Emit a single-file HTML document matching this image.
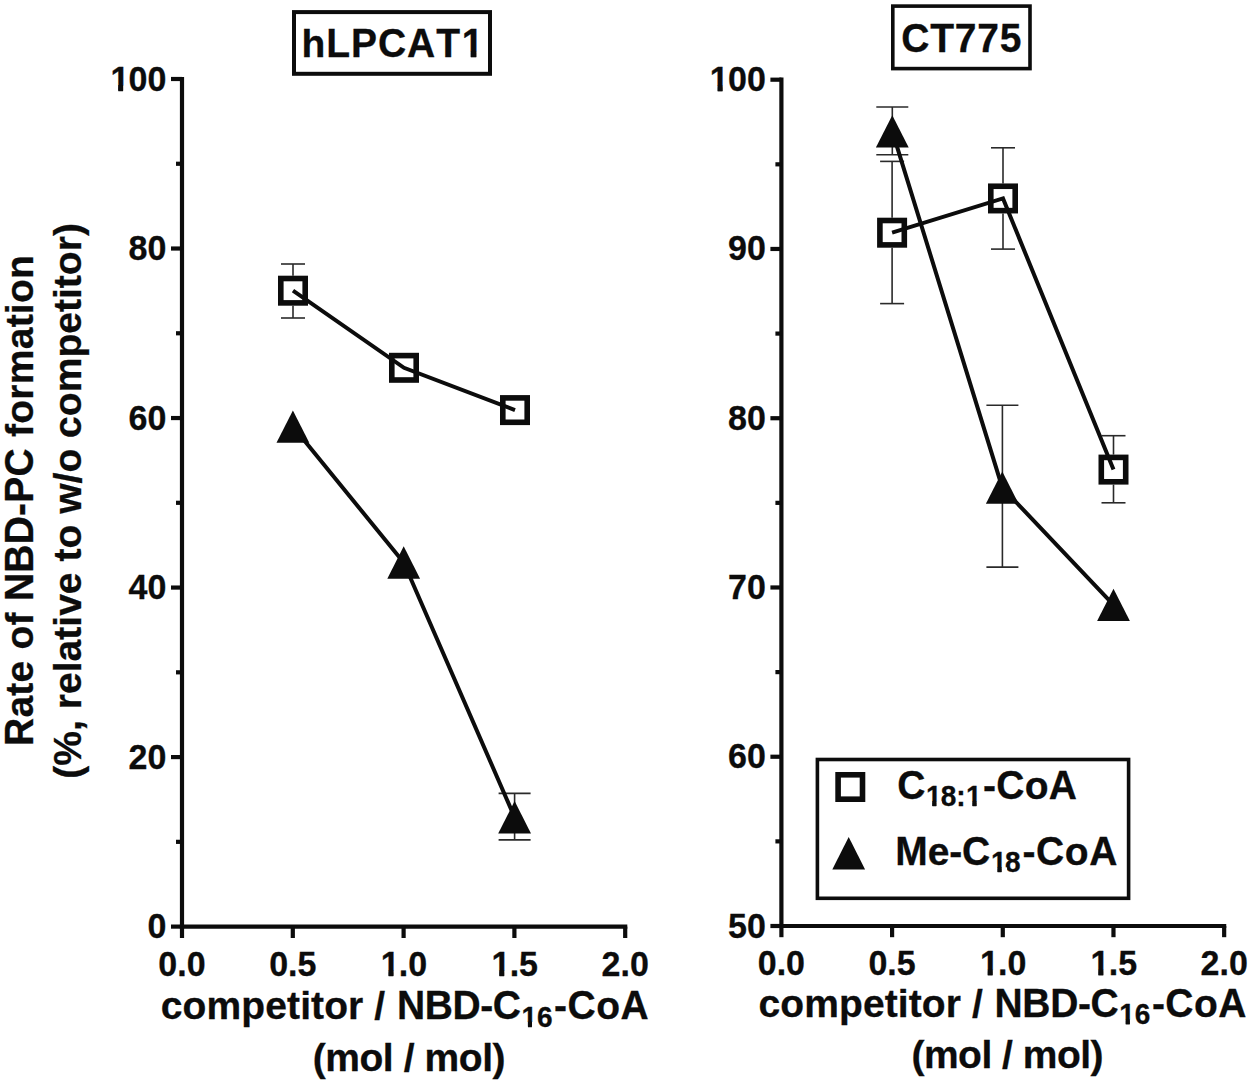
<!DOCTYPE html>
<html><head><meta charset="utf-8"><title>LPCAT1 competition assay</title><style>
html,body{margin:0;padding:0;background:#fff;width:1250px;height:1084px;overflow:hidden}
svg{display:block}
text{font-family:"Liberation Sans",sans-serif;font-weight:bold;fill:#0c0c0c;stroke:#0c0c0c;stroke-width:0.3px;font-kerning:none}
</style></head><body>
<svg width="1250" height="1084" viewBox="0 0 1250 1084">
<g stroke="#0c0c0c" stroke-width="4.2" fill="none" stroke-linecap="butt">
<line x1="182.0" y1="76.9" x2="182.0" y2="928.7"/>
<line x1="179.9" y1="926.6" x2="627.3000000000001" y2="926.6"/>
<line x1="171.0" y1="79.00" x2="182.0" y2="79.00"/>
<line x1="171.0" y1="248.52" x2="182.0" y2="248.52"/>
<line x1="171.0" y1="418.04" x2="182.0" y2="418.04"/>
<line x1="171.0" y1="587.56" x2="182.0" y2="587.56"/>
<line x1="171.0" y1="757.08" x2="182.0" y2="757.08"/>
<line x1="171.0" y1="926.60" x2="182.0" y2="926.60"/>
<line x1="176.0" y1="163.76" x2="182.0" y2="163.76"/>
<line x1="176.0" y1="333.28" x2="182.0" y2="333.28"/>
<line x1="176.0" y1="502.80" x2="182.0" y2="502.80"/>
<line x1="176.0" y1="672.32" x2="182.0" y2="672.32"/>
<line x1="176.0" y1="841.84" x2="182.0" y2="841.84"/>
<line x1="182.00" y1="926.6" x2="182.00" y2="938.0"/>
<line x1="292.80" y1="926.6" x2="292.80" y2="938.0"/>
<line x1="403.60" y1="926.6" x2="403.60" y2="938.0"/>
<line x1="514.40" y1="926.6" x2="514.40" y2="938.0"/>
<line x1="625.20" y1="926.6" x2="625.20" y2="938.0"/>
</g>
<g transform="translate(109.67,90.70) scale(1,1.03)"><text x="0.75 18.91 37.82" font-size="34">100</text><g fill="#fff"><rect x="1.69" y="-5.07" width="6.99" height="7.27"/><rect x="13.35" y="-5.07" width="6.56" height="7.27"/></g><g fill="#0c0c0c"><rect x="8.53" y="-5.47" width="4.97" height="5.47"/></g></g>
<g transform="translate(128.58,260.22) scale(1,1.03)"><text x="0.00 18.91" font-size="34">80</text></g>
<g transform="translate(128.58,429.74) scale(1,1.03)"><text x="0.00 18.91" font-size="34">60</text></g>
<g transform="translate(128.58,599.26) scale(1,1.03)"><text x="0.00 18.91" font-size="34">40</text></g>
<g transform="translate(128.58,768.78) scale(1,1.03)"><text x="0.00 18.91" font-size="34">20</text></g>
<g transform="translate(147.49,938.30) scale(1,1.03)"><text x="0.00" font-size="34">0</text></g>
<g transform="translate(158.37,975.90) scale(1,1.03)"><text x="0.00 18.91 28.36" font-size="34">0.0</text></g>
<g transform="translate(269.17,975.90) scale(1,1.03)"><text x="0.00 18.91 28.36" font-size="34">0.5</text></g>
<g transform="translate(379.97,975.90) scale(1,1.03)"><text x="0.75 18.91 28.36" font-size="34">1.0</text><g fill="#fff"><rect x="1.69" y="-5.07" width="6.99" height="7.27"/><rect x="13.35" y="-5.07" width="6.56" height="7.27"/></g><g fill="#0c0c0c"><rect x="8.53" y="-5.47" width="4.97" height="5.47"/></g></g>
<g transform="translate(490.77,975.90) scale(1,1.03)"><text x="0.75 18.91 28.36" font-size="34">1.5</text><g fill="#fff"><rect x="1.69" y="-5.07" width="6.99" height="7.27"/><rect x="13.35" y="-5.07" width="6.56" height="7.27"/></g><g fill="#0c0c0c"><rect x="8.53" y="-5.47" width="4.97" height="5.47"/></g></g>
<g transform="translate(601.57,975.90) scale(1,1.03)"><text x="0.00 18.91 28.36" font-size="34">2.0</text></g>
<g stroke="#0c0c0c" stroke-width="4.2" fill="none" stroke-linecap="butt">
<line x1="781.4" y1="77.60000000000001" x2="781.4" y2="928.1"/>
<line x1="779.3" y1="926.0" x2="1226.2599999999998" y2="926.0"/>
<line x1="770.4" y1="79.70" x2="781.4" y2="79.70"/>
<line x1="770.4" y1="248.96" x2="781.4" y2="248.96"/>
<line x1="770.4" y1="418.22" x2="781.4" y2="418.22"/>
<line x1="770.4" y1="587.48" x2="781.4" y2="587.48"/>
<line x1="770.4" y1="756.74" x2="781.4" y2="756.74"/>
<line x1="770.4" y1="926.00" x2="781.4" y2="926.00"/>
<line x1="775.4" y1="164.33" x2="781.4" y2="164.33"/>
<line x1="775.4" y1="333.59" x2="781.4" y2="333.59"/>
<line x1="775.4" y1="502.85" x2="781.4" y2="502.85"/>
<line x1="775.4" y1="672.11" x2="781.4" y2="672.11"/>
<line x1="775.4" y1="841.37" x2="781.4" y2="841.37"/>
<line x1="781.40" y1="926.0" x2="781.40" y2="937.2"/>
<line x1="892.09" y1="926.0" x2="892.09" y2="937.2"/>
<line x1="1002.78" y1="926.0" x2="1002.78" y2="937.2"/>
<line x1="1113.47" y1="926.0" x2="1113.47" y2="937.2"/>
<line x1="1224.16" y1="926.0" x2="1224.16" y2="937.2"/>
</g>
<g transform="translate(709.07,91.20) scale(1,1.03)"><text x="0.75 18.91 37.82" font-size="34">100</text><g fill="#fff"><rect x="1.69" y="-5.07" width="6.99" height="7.27"/><rect x="13.35" y="-5.07" width="6.56" height="7.27"/></g><g fill="#0c0c0c"><rect x="8.53" y="-5.47" width="4.97" height="5.47"/></g></g>
<g transform="translate(727.98,260.46) scale(1,1.03)"><text x="0.00 18.91" font-size="34">90</text></g>
<g transform="translate(727.98,429.72) scale(1,1.03)"><text x="0.00 18.91" font-size="34">80</text></g>
<g transform="translate(727.98,598.98) scale(1,1.03)"><text x="0.00 18.91" font-size="34">70</text></g>
<g transform="translate(727.98,768.24) scale(1,1.03)"><text x="0.00 18.91" font-size="34">60</text></g>
<g transform="translate(727.98,937.50) scale(1,1.03)"><text x="0.00 18.91" font-size="34">50</text></g>
<g transform="translate(757.77,975.30) scale(1,1.03)"><text x="0.00 18.91 28.36" font-size="34">0.0</text></g>
<g transform="translate(868.46,975.30) scale(1,1.03)"><text x="0.00 18.91 28.36" font-size="34">0.5</text></g>
<g transform="translate(979.15,975.30) scale(1,1.03)"><text x="0.75 18.91 28.36" font-size="34">1.0</text><g fill="#fff"><rect x="1.69" y="-5.07" width="6.99" height="7.27"/><rect x="13.35" y="-5.07" width="6.56" height="7.27"/></g><g fill="#0c0c0c"><rect x="8.53" y="-5.47" width="4.97" height="5.47"/></g></g>
<g transform="translate(1089.84,975.30) scale(1,1.03)"><text x="0.75 18.91 28.36" font-size="34">1.5</text><g fill="#fff"><rect x="1.69" y="-5.07" width="6.99" height="7.27"/><rect x="13.35" y="-5.07" width="6.56" height="7.27"/></g><g fill="#0c0c0c"><rect x="8.53" y="-5.47" width="4.97" height="5.47"/></g></g>
<g transform="translate(1200.53,975.30) scale(1,1.03)"><text x="0.00 18.91 28.36" font-size="34">2.0</text></g>
<rect x="294" y="12.1" width="196" height="61.7" fill="none" stroke="#0c0c0c" stroke-width="4"/>
<g transform="translate(301.58,57.10) scale(1,0.975)"><text x="0.00" font-size="39">h</text></g><g transform="translate(301.58,57.10) scale(1,1.035)"><text x="24.74 49.48 76.41 105.49 134.57 160.17" font-size="39">LPCAT1</text><g fill="#fff"><rect x="161.43" y="-5.58" width="7.85" height="7.78"/><rect x="174.62" y="-5.58" width="7.35" height="7.78"/></g><g fill="#0c0c0c"><rect x="169.12" y="-5.98" width="5.65" height="5.98"/></g></g>
<rect x="892.8" y="6.1" width="137.2" height="62.5" fill="none" stroke="#0c0c0c" stroke-width="3.6"/>
<g transform="translate(901.20,51.70) scale(1,1.035)"><text x="0.00 28.95 53.55 76.02 98.50" font-size="39">CT775</text></g>
<g transform="translate(160.78,1019.00) scale(1,0.975)"><text x="0.00 21.80 45.73 80.52 104.46 126.26 139.36 150.30 163.40 187.33 202.62" font-size="39">competitor </text></g><g transform="translate(160.78,1019.00) scale(1,1.0)"><text x="213.57 224.40" font-size="39">/ </text></g><g transform="translate(396.99,1019.00) scale(1,1.035)"><text x="0.00 27.72 55.44 83.17 95.71" font-size="39">NBD-C</text></g><g transform="translate(520.87,1026.60) scale(1,1.035)"><text x="0.62 16.07" font-size="28">16</text><g fill="#fff"><rect x="1.18" y="-4.46" width="5.97" height="6.66"/><rect x="10.99" y="-4.46" width="5.62" height="6.66"/></g><g fill="#0c0c0c"><rect x="7.00" y="-4.86" width="4.14" height="4.86"/></g></g><g transform="translate(554.08,1019.00) scale(1,1.035)"><text x="0.00 13.46" font-size="39">-C</text></g><g transform="translate(554.08,1019.00) scale(1,0.975)"><text x="42.09" font-size="39">o</text></g><g transform="translate(554.08,1019.00) scale(1,1.035)"><text x="66.39" font-size="39">A</text></g>
<g transform="translate(758.58,1016.70) scale(1,0.975)"><text x="0.00 21.78 45.70 80.47 104.38 126.17 139.25 150.17 163.26 187.17 202.44" font-size="39">competitor </text></g><g transform="translate(758.58,1016.70) scale(1,1.0)"><text x="213.37 224.20" font-size="39">/ </text></g><g transform="translate(994.59,1016.70) scale(1,1.035)"><text x="0.00 27.77 55.54 83.32 95.91" font-size="39">NBD-C</text></g><g transform="translate(1118.67,1024.30) scale(1,1.035)"><text x="0.62 16.07" font-size="28">16</text><g fill="#fff"><rect x="1.18" y="-4.46" width="5.97" height="6.66"/><rect x="10.99" y="-4.46" width="5.62" height="6.66"/></g><g fill="#0c0c0c"><rect x="7.00" y="-4.86" width="4.14" height="4.86"/></g></g><g transform="translate(1151.88,1016.70) scale(1,1.035)"><text x="0.00 13.46" font-size="39">-C</text></g><g transform="translate(1151.88,1016.70) scale(1,0.975)"><text x="42.09" font-size="39">o</text></g><g transform="translate(1151.88,1016.70) scale(1,1.035)"><text x="66.39" font-size="39">A</text></g>
<g transform="translate(312.66,1071.00) scale(1,1.0)"><text x="0.00" font-size="39">(</text></g><g transform="translate(312.66,1071.00) scale(1,0.975)"><text x="12.56 46.81 70.21 80.62" font-size="39">mol </text></g><g transform="translate(312.66,1071.00) scale(1,1.0)"><text x="91.02 101.43" font-size="39">/ </text></g><g transform="translate(312.66,1071.00) scale(1,0.975)"><text x="111.84 146.09 169.49" font-size="39">mol</text></g><g transform="translate(312.66,1071.00) scale(1,1.0)"><text x="179.90" font-size="39">)</text></g>
<g transform="translate(911.46,1068.30) scale(1,1.0)"><text x="0.00" font-size="39">(</text></g><g transform="translate(911.46,1068.30) scale(1,0.975)"><text x="12.48 46.65 69.97 80.30" font-size="39">mol </text></g><g transform="translate(911.46,1068.30) scale(1,1.0)"><text x="90.62 100.95" font-size="39">/ </text></g><g transform="translate(911.46,1068.30) scale(1,0.975)"><text x="111.28 145.45 168.77" font-size="39">mol</text></g><g transform="translate(911.46,1068.30) scale(1,1.0)"><text x="179.10" font-size="39">)</text></g>
<g transform="translate(33.2,743.4) rotate(-90)"><g transform="translate(-2.61,0.00) scale(1,1.035)"><text x="0.00" font-size="39">R</text></g><g transform="translate(-2.61,0.00) scale(1,0.975)"><text x="28.40 50.33 63.56 85.49 96.56 120.62 133.85" font-size="39">ate of </text></g><g transform="translate(-2.61,0.00) scale(1,1.035)"><text x="144.93 173.33 201.73 230.14 243.36 269.61 298.02" font-size="39">NBD-PC </text></g><g transform="translate(-2.61,0.00) scale(1,0.975)"><text x="309.09 322.32 346.38 361.80 396.71 418.64 431.87 442.94 467.00" font-size="39">formation</text></g></g>
<g transform="translate(80.7,776.8) rotate(-90)"><g transform="translate(-1.94,0.00) scale(1,1.0)"><text x="0.00 13.02 47.73 58.59" font-size="39">(%, </text></g><g transform="translate(-1.94,0.00) scale(1,0.975)"><text x="69.46 84.67 106.39 117.26 138.98 152.00 162.87 184.59 206.31 217.18 230.19 254.05 264.92" font-size="39">relative to w</text></g><g transform="translate(-1.94,0.00) scale(1,1.0)"><text x="295.28" font-size="39">/</text></g><g transform="translate(-1.94,0.00) scale(1,0.975)"><text x="306.15 330.00 340.87 362.59 386.45 421.15 445.01 466.73 479.75 490.62 503.63 527.49" font-size="39">o competitor</text></g><g transform="translate(-1.94,0.00) scale(1,1.0)"><text x="542.70" font-size="39">)</text></g></g>
<g stroke="#2a2a2a" stroke-width="1.6" fill="none">
<line x1="293.0" y1="264.0" x2="293.0" y2="275.7"/><line x1="293.0" y1="305.7" x2="293.0" y2="318.0"/><line x1="281.0" y1="264.0" x2="305.0" y2="264.0"/><line x1="281.0" y1="318.0" x2="305.0" y2="318.0"/>
<line x1="514.6" y1="793.4" x2="514.6" y2="839.9"/><line x1="498.6" y1="793.4" x2="530.6" y2="793.4"/><line x1="498.6" y1="839.9" x2="530.6" y2="839.9"/>
<line x1="892.1" y1="161.4" x2="892.1" y2="217.7"/><line x1="892.1" y1="247.7" x2="892.1" y2="303.6"/><line x1="880.1" y1="161.4" x2="904.1" y2="161.4"/><line x1="880.1" y1="303.6" x2="904.1" y2="303.6"/>
<line x1="892.3" y1="107.0" x2="892.3" y2="154.7"/><line x1="876.3" y1="107.0" x2="908.3" y2="107.0"/><line x1="876.3" y1="154.7" x2="908.3" y2="154.7"/>
<line x1="1003.0" y1="147.8" x2="1003.0" y2="183.45"/><line x1="1003.0" y1="213.45" x2="1003.0" y2="249.1"/><line x1="991.0" y1="147.8" x2="1015.0" y2="147.8"/><line x1="991.0" y1="249.1" x2="1015.0" y2="249.1"/>
<line x1="1002.4" y1="405.2" x2="1002.4" y2="567.1"/><line x1="986.4" y1="405.2" x2="1018.4" y2="405.2"/><line x1="986.4" y1="567.1" x2="1018.4" y2="567.1"/>
<line x1="1113.5" y1="435.7" x2="1113.5" y2="454.6"/><line x1="1113.5" y1="484.6" x2="1113.5" y2="502.8"/><line x1="1101.5" y1="435.7" x2="1125.5" y2="435.7"/><line x1="1101.5" y1="502.8" x2="1125.5" y2="502.8"/>
</g>
<g stroke="#0c0c0c" stroke-width="4.0" fill="none" stroke-linejoin="miter" stroke-miterlimit="10">
<polyline points="293.0,290.7 404.0,367.8 515.0,410.1"/>
<polyline points="292.9,426.6 403.7,562.5 514.6,817.3"/>
<polyline points="892.1,232.7 1003.0,198.45 1113.5,469.6"/>
<polyline points="892.3,131.4 1002.3,487.6 1113.5,604.9"/>
</g>
<g fill="none" stroke="#0c0c0c" stroke-width="5.6"><rect x="280.80" y="278.50" width="24.40" height="24.40"/><rect x="391.80" y="355.60" width="24.40" height="24.40"/><rect x="502.80" y="397.90" width="24.40" height="24.40"/><rect x="879.90" y="220.50" width="24.40" height="24.40"/><rect x="990.80" y="186.25" width="24.40" height="24.40"/><rect x="1101.30" y="457.40" width="24.40" height="24.40"/></g>
<g fill="#0c0c0c"><polygon points="292.90,410.40 276.50,442.80 309.30,442.80"/><polygon points="403.70,546.30 387.30,578.70 420.10,578.70"/><polygon points="514.60,801.10 498.20,833.50 531.00,833.50"/><polygon points="892.30,115.20 875.90,147.60 908.70,147.60"/><polygon points="1002.30,471.40 985.90,503.80 1018.70,503.80"/><polygon points="1113.50,588.70 1097.10,621.10 1129.90,621.10"/></g>
<rect x="817.4" y="759.5" width="311.2" height="138.8" fill="none" stroke="#0c0c0c" stroke-width="3.6"/>
<g fill="none" stroke="#0c0c0c" stroke-width="5.6"><rect x="838.10" y="774.80" width="24.40" height="24.40"/></g>
<g fill="#0c0c0c"><polygon points="848.70,837.10 832.30,869.50 865.10,869.50"/></g>
<g transform="translate(897.20,798.80) scale(1,1.035)"><text x="0.00" font-size="39">C</text></g><g transform="translate(925.27,806.00) scale(1,1.035)"><text x="0.62 15.46 30.92 40.75" font-size="28">18:1</text><g fill="#fff"><rect x="1.18" y="-4.46" width="5.97" height="6.66"/><rect x="10.99" y="-4.46" width="5.62" height="6.66"/><rect x="41.32" y="-4.46" width="5.97" height="6.66"/><rect x="51.13" y="-4.46" width="5.62" height="6.66"/></g><g fill="#0c0c0c"><rect x="7.00" y="-4.86" width="4.14" height="4.86"/><rect x="47.14" y="-4.86" width="4.14" height="4.86"/></g></g><g transform="translate(982.88,798.80) scale(1,1.035)"><text x="0.00 13.29" font-size="39">-C</text></g><g transform="translate(982.88,798.80) scale(1,0.975)"><text x="41.76" font-size="39">o</text></g><g transform="translate(982.88,798.80) scale(1,1.035)"><text x="65.89" font-size="39">A</text></g>
<g transform="translate(895.29,864.90) scale(1,1.035)"><text x="0.00" font-size="39">M</text></g><g transform="translate(895.29,864.90) scale(1,0.975)"><text x="32.34" font-size="39">e</text></g><g transform="translate(895.29,864.90) scale(1,1.035)"><text x="53.87 66.71" font-size="39">-C</text></g><g transform="translate(990.47,872.00) scale(1,1.035)"><text x="0.62 14.52" font-size="28">18</text><g fill="#fff"><rect x="1.18" y="-4.46" width="5.97" height="6.66"/><rect x="10.99" y="-4.46" width="5.62" height="6.66"/></g><g fill="#0c0c0c"><rect x="7.00" y="-4.86" width="4.14" height="4.86"/></g></g><g transform="translate(1022.38,864.90) scale(1,1.035)"><text x="0.00 13.66" font-size="39">-C</text></g><g transform="translate(1022.38,864.90) scale(1,0.975)"><text x="42.49" font-size="39">o</text></g><g transform="translate(1022.38,864.90) scale(1,1.035)"><text x="66.99" font-size="39">A</text></g>
</svg>
</body></html>
